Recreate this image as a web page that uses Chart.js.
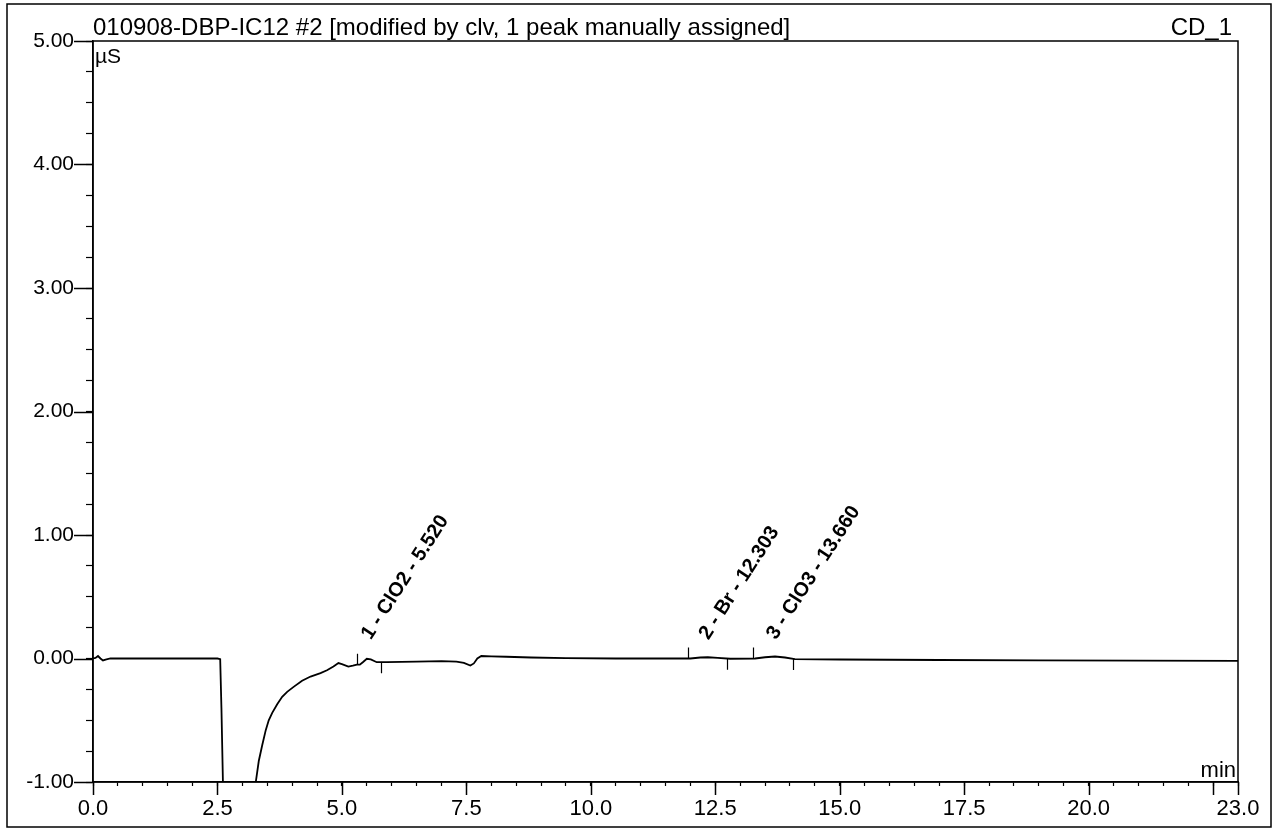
<!DOCTYPE html>
<html>
<head>
<meta charset="utf-8">
<script src="https://cdn.jsdelivr.net/npm/chart.js@4.4.1/dist/chart.umd.min.js"></script>
<style>
  html, body { margin: 0; padding: 0; background: #fff; }
  #wrap { position: relative; width: 1275px; height: 829px; }
</style>
</head>
<body>
<div id="wrap"><canvas id="c" width="1275" height="829"></canvas></div>
<script>
// ---- data ----
const times = [0, 0.05, 0.1, 0.15, 0.2, 0.27, 0.35, 0.5, 1.0, 1.5, 2.0, 2.5, 2.555, 2.58, 2.61, 2.63,
  3.24, 3.27, 3.33, 3.40, 3.47, 3.53, 3.6, 3.7, 3.8, 3.9, 4.03, 4.2, 4.37, 4.57, 4.7, 4.83, 4.93, 5.0,
  5.13, 5.22, 5.30, 5.36, 5.42, 5.5, 5.58, 5.7, 5.9, 6.5, 7.0, 7.3, 7.45, 7.58, 7.65, 7.72, 7.8, 8.0,
  8.3, 8.8, 9.5, 10.5, 11.5, 12.0, 12.2, 12.35, 12.55, 12.8, 13.3, 13.5, 13.7, 13.9, 14.1, 15, 17, 19, 21, 23];
const signal = [0, 0.005, 0.02, 0.0, -0.016, -0.008, 0.0, 0.0, 0.0, 0.0, 0.0, 0.0, -0.005, -0.4, -1.0, -1.6,
  -1.6, -1.0, -0.83, -0.70, -0.58, -0.50, -0.44, -0.37, -0.31, -0.27, -0.23, -0.18, -0.146, -0.118, -0.095, -0.065, -0.037, -0.045,
  -0.065, -0.058, -0.05, -0.05, -0.03, -0.002, -0.008, -0.03, -0.03, -0.025, -0.022, -0.025, -0.035, -0.057, -0.04, 0.0, 0.02, 0.018,
  0.014, 0.008, 0.003, 0.0, 0.0, 0.0, 0.008, 0.01, 0.005, -0.002, 0.0, 0.01, 0.016, 0.008, -0.005, -0.008, -0.012, -0.015, -0.018, -0.02];

const peakNames = ['1 - ClO2 - 5.520', '2 - Br - 12.303', '3 - ClO3 - 13.660'];
const peakTimes = [5.520, 12.303, 13.660];
const peakStart = [5.30, 11.95, 13.26];
const peakStartVal = [-0.05, 0.0, 0.0];
const peakEnd = [5.79, 12.74, 14.06];
const peakEndVal = [-0.03, -0.002, -0.005];

const xMajorTicks = [0, 2.5, 5, 7.5, 10, 12.5, 15, 17.5, 20, 22.5, 23];
const xTickLabels = [0, 2.5, 5, 7.5, 10, 12.5, 15, 17.5, 20, 23];
const yMajorTicks = [-1, 0, 1, 2, 3, 4, 5];

const chartTitle = '010908-DBP-IC12 #2 [modified by clv, 1 peak manually assigned]';
const channelName = 'CD_1';
const yUnit = 'µS';
const xUnit = 'min';

const FONT = '"Liberation Sans", Arial, sans-serif';

const decorPlugin = {
  id: 'decor',
  afterDraw(chart) {
    const ctx = chart.ctx;
    const a = chart.chartArea;
    const xs = chart.scales.x, ys = chart.scales.y;
    ctx.save();
    ctx.strokeStyle = '#000';
    ctx.fillStyle = '#000';
    // outer frame
    ctx.lineWidth = 1.5;
    ctx.strokeRect(7, 4, 1264, 823);
    // plot frame
    ctx.strokeRect(a.left, a.top, a.right - a.left, a.bottom - a.top);
    // major ticks
    ctx.lineWidth = 1.5;
    ctx.beginPath();
    xMajorTicks.forEach(v => {
      const px = Math.round(xs.getPixelForValue(v)) + 0.5;
      ctx.moveTo(px, a.bottom); ctx.lineTo(px, a.bottom + 13);
    });
    yMajorTicks.forEach(v => {
      const py = Math.round(ys.getPixelForValue(v)) + 0.5;
      ctx.moveTo(a.left, py); ctx.lineTo(a.left - 19, py);
    });
    ctx.stroke();
    // peak delimiters
    ctx.lineWidth = 1.2;
    ctx.beginPath();
    peakStart.forEach((t, i) => {
      const px = Math.round(xs.getPixelForValue(t)) + 0.5;
      const py = ys.getPixelForValue(peakStartVal[i]);
      ctx.moveTo(px, py); ctx.lineTo(px, py - 11);
    });
    peakEnd.forEach((t, i) => {
      const px = Math.round(xs.getPixelForValue(t)) + 0.5;
      const py = ys.getPixelForValue(peakEndVal[i]);
      ctx.moveTo(px, py); ctx.lineTo(px, py + 11);
    });
    ctx.stroke();
    // peak labels
    ctx.font = 'bold 20px ' + FONT;
    ctx.textAlign = 'left';
    ctx.textBaseline = 'alphabetic';
    peakNames.forEach((name, i) => {
      const px = xs.getPixelForValue(peakTimes[i]) + 3;
      const py = ys.getPixelForValue(0) - 18;
      ctx.save();
      ctx.translate(px, py);
      ctx.rotate(-57 * Math.PI / 180);
      ctx.fillText(name, 0, 0);
      ctx.restore();
    });
    // titles and units
    ctx.font = '24px ' + FONT;
    ctx.textAlign = 'left';
    ctx.fillText(chartTitle, a.left, 35);
    ctx.textAlign = 'right';
    ctx.fillText(channelName, 1232, 35);
    ctx.font = '21px ' + FONT;
    ctx.textAlign = 'left';
    ctx.fillText(yUnit, a.left + 2, 63);
    ctx.font = '22px ' + FONT;
    ctx.textAlign = 'right';
    ctx.fillText(xUnit, a.right - 2, a.bottom - 5);
    ctx.restore();
  }
};

new Chart(document.getElementById('c'), {
  type: 'line',
  data: {
    datasets: [{
      data: times.map((t, i) => ({ x: t, y: signal[i] })),
      borderColor: '#000',
      borderWidth: 1.8,
      pointRadius: 0,
      tension: 0,
      fill: false
    }]
  },
  options: {
    responsive: false,
    animation: false,
    events: [],
    layout: { padding: { left: 8, top: 41, right: 37, bottom: 0 } },
    plugins: { legend: { display: false }, tooltip: { enabled: false }, title: { display: false } },
    scales: {
      x: {
        type: 'linear', min: 0, max: 23,
        afterFit(s) { s.height = 47; },
        grid: { drawOnChartArea: false, drawTicks: true, tickLength: 4, tickColor: '#000', tickWidth: 1.2 },
        border: { display: true, color: '#000', width: 1.5 },
        ticks: {
          stepSize: 0.5, autoSkip: false, maxRotation: 0, minRotation: 0, padding: 10,
          color: '#000', font: { family: FONT, size: 22 },
          callback: v => xTickLabels.some(l => Math.abs(l - v) < 1e-6) ? Number(v).toFixed(1) : ''
        }
      },
      y: {
        type: 'linear', min: -1, max: 5,
        afterFit(s) { s.width = 85; },
        grid: { drawOnChartArea: false, drawTicks: true, tickLength: 7, tickColor: '#000', tickWidth: 1.2 },
        border: { display: true, color: '#000', width: 1.5 },
        ticks: {
          stepSize: 0.25, autoSkip: false, padding: 12,
          color: '#000', font: { family: FONT, size: 21 },
          callback: v => Math.abs(v - Math.round(v)) < 1e-6 ? Number(v).toFixed(2) : ''
        }
      }
    }
  },
  plugins: [decorPlugin]
});
</script>
</body>
</html>
